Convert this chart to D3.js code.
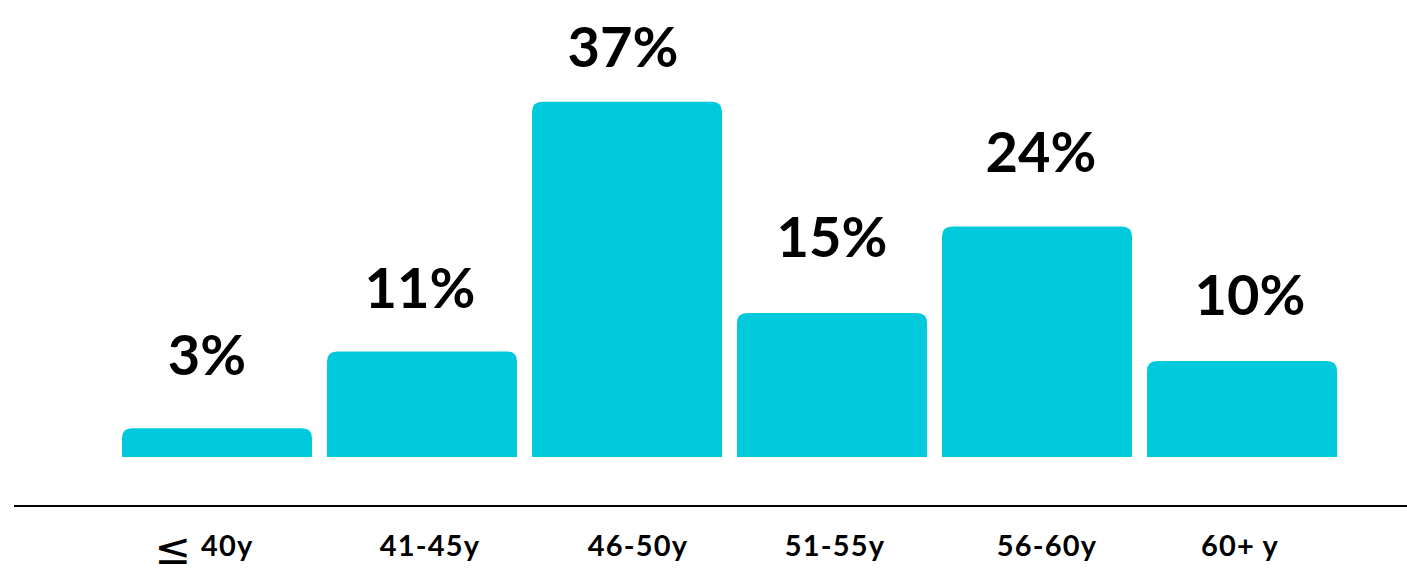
<!DOCTYPE html>
<html>
<head>
<meta charset="utf-8">
<script src="https://cdn.jsdelivr.net/npm/d3@7"></script>
<style>
  html, body { margin: 0; padding: 0; background: #fff; }
  svg { display: block; }
  text { font-family: Lato, "Open Sans", sans-serif; font-weight: 700; fill: #000; }
  tspan.sym { font-family: "DejaVu Sans", sans-serif; font-weight: 400; font-size: 44px; }
</style>
</head>
<body>
<svg id="chart" width="1407" height="576"></svg>
<script>
const categories = ["≤ 40y", "41-45y", "46-50y", "51-55y", "56-60y", "60+ y"];
const values = [3, 11, 37, 15, 24, 10];
const valueLabels = ["3%", "11%", "37%", "15%", "24%", "10%"];

const W = 1407, H = 576;
const baseY = 457;
const svg = d3.select("#chart");

const x = d3.scaleBand().domain(categories).range([122, 1337]).paddingInner(15 / 205).paddingOuter(0);
const y = d3.scaleLinear().domain([0, 40]).range([baseY, baseY - 384]);

const r = 10;
function topRounded(x0, y0, w, h) {
  const rr = Math.min(r, h, w / 2);
  return `M${x0},${y0 + h}V${y0 + rr}Q${x0},${y0} ${x0 + rr},${y0}H${x0 + w - rr}Q${x0 + w},${y0} ${x0 + w},${y0 + rr}V${y0 + h}Z`;
}

const data = categories.map((c, i) => ({ c, v: values[i], label: valueLabels[i] }));

svg.selectAll("path.bar").data(data).join("path")
  .attr("class", "bar")
  .attr("fill", "#01C9DC")
  .attr("d", d => topRounded(x(d.c), y(d.v), x.bandwidth(), y(0) - y(d.v)));

// label placement nudges (layout only)
const valDx = [-10, -2, -4, 0, 4, 8];
const valGap = [53, 43, 35, 56, 55, 46];
svg.selectAll("text.val").data(data).join("text")
  .attr("class", "val")
  .attr("x", (d, i) => x(d.c) + x.bandwidth() / 2 + valDx[i])
  .attr("y", (d, i) => y(d.v) - valGap[i])
  .attr("text-anchor", "middle")
  .attr("font-size", 56)
  .text(d => d.label);

// axis line
svg.append("line")
  .attr("x1", 14).attr("x2", W)
  .attr("y1", 506).attr("y2", 506)
  .attr("stroke", "#000").attr("stroke-width", 2);

const labelDx = [-13, 8, 11, 3, 10, -2];
const cats = svg.selectAll("text.cat").data(data).join("text")
  .attr("class", "cat")
  .attr("x", (d, i) => x(d.c) + x.bandwidth() / 2 + labelDx[i])
  .attr("y", 556)
  .attr("text-anchor", "middle")
  .attr("font-size", 29)
  .attr("letter-spacing", 1.2);

cats.each(function(d) {
  const t = d3.select(this);
  if (d.c.startsWith("≤")) {
    t.append("tspan")
      .attr("class", "sym")
      .attr("dy", 8)
      .text("≤");
    t.append("tspan")
      .attr("dy", -8)
      .text(d.c.slice(1));
  } else {
    t.text(d.c);
  }
});
</script>
</body>
</html>
